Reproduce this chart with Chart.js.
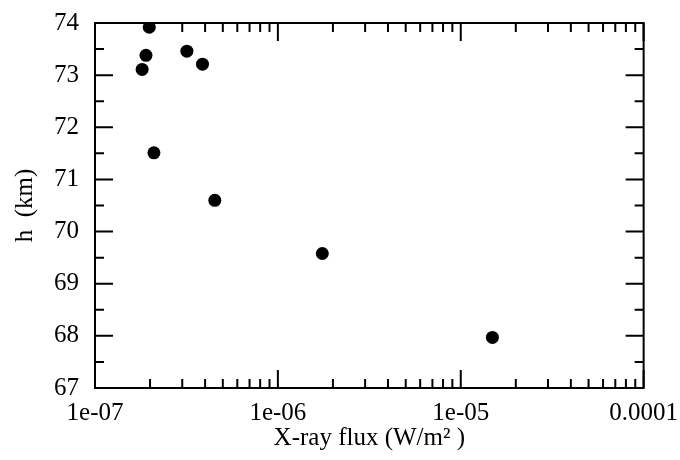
<!DOCTYPE html>
<html>
<head>
<meta charset="utf-8">
<title>X-ray flux vs height</title>
<script src="https://cdn.jsdelivr.net/npm/chart.js@4/dist/chart.umd.min.js"></script>
<style>
	html, body { margin: 0; padding: 0; background: #fff; }
	canvas { display: block; }
</style>
</head>
<body>
<canvas id="fluxChart" width="680" height="460"></canvas>
<script>
// measured points: peak X-ray flux (W/m2) and reflection height (km)
let flux = [1.81e-7, 1.90e-7, 1.98e-7, 2.10e-7, 3.18e-7, 3.87e-7, 4.52e-7, 1.75e-6, 1.49e-5];
let height = [73.11, 73.38, 73.92, 71.51, 73.46, 73.21, 70.60, 69.58, 67.97];

let decadeTicks = [1e-7, 1e-6, 1e-5, 1e-4];
let decadeLabels = ['1e-07', '1e-06', '1e-05', '0.0001'];
let heightTicks = [67, 68, 69, 70, 71, 72, 73, 74];

var serif = "'Liberation Serif', 'Times New Roman', serif";

var points = flux.map(function (f, i) {
	return { x: f, y: height[i] };
});

// frame with ticks pointing into the plot, on all four sides
var inwardTicks = {
	id: 'inwardTicks',
	afterDraw: function (chart) {
		var c = chart.ctx;
		var a = chart.chartArea;
		var xs = chart.scales.x;
		var ys = chart.scales.y;
		var major = 18, minor = 9;
		c.save();
		c.strokeStyle = '#000';
		c.lineWidth = 2;
		c.strokeRect(a.left, a.top, a.right - a.left, a.bottom - a.top);
		c.beginPath();
		decadeTicks.forEach(function (v, i) {
			var px = xs.getPixelForValue(v);
			c.moveTo(px, a.bottom); c.lineTo(px, a.bottom - major);
			c.moveTo(px, a.top); c.lineTo(px, a.top + major);
			if (i == decadeTicks.length - 1) return;
			for (var m = 2; m <= 9; m++) {
				var mx = xs.getPixelForValue(v * m);
				c.moveTo(mx, a.bottom); c.lineTo(mx, a.bottom - minor);
				c.moveTo(mx, a.top); c.lineTo(mx, a.top + minor);
			}
		});
		heightTicks.forEach(function (v, i) {
			var py = ys.getPixelForValue(v);
			c.moveTo(a.left, py); c.lineTo(a.left + major, py);
			c.moveTo(a.right, py); c.lineTo(a.right - major, py);
			if (i == heightTicks.length - 1) return;
			var my = ys.getPixelForValue(v + 0.5);
			c.moveTo(a.left, my); c.lineTo(a.left + minor, my);
			c.moveTo(a.right, my); c.lineTo(a.right - minor, my);
		});
		c.stroke();
		c.restore();
	}
};

var ctx = document.getElementById('fluxChart').getContext('2d');
var fluxChart = new Chart(ctx, {
	type: 'scatter',
	data: {
		datasets: [
			{
				data: points,
				backgroundColor: '#000',
				borderWidth: 0,
				pointRadius: 6.5,
				pointHoverRadius: 6.5
			}
		]
	},
	options: {
		responsive: false,
		animation: false,
		devicePixelRatio: 1,
		layout: {
			padding: { top: 20, right: 35, left: 0, bottom: 0 }
		},
		plugins: {
			legend: { display: false },
			tooltip: { enabled: false }
		},
		scales: {
			x: {
				type: 'logarithmic',
				min: 1e-7,
				max: 1e-4,
				afterBuildTicks: function (scale) {
					scale.ticks = decadeTicks.map(function (v) { return { value: v }; });
				},
				afterFit: function (scale) {
					scale.height = 72;
				},
				grid: { display: false },
				border: { display: false },
				ticks: {
					autoSkip: false,
					maxRotation: 0,
					padding: 2,
					color: '#000',
					font: { family: serif, size: 25 },
					callback: function (value, index) {
						return decadeLabels[index];
					}
				},
				title: {
					display: true,
					text: 'X-ray flux (W/m² )',
					color: '#000',
					font: { family: serif, size: 25 },
					padding: { top: 0, bottom: 7 }
				}
			},
			y: {
				min: 67,
				max: 74,
				afterBuildTicks: function (scale) {
					scale.ticks = heightTicks.map(function (v) { return { value: v }; });
				},
				afterFit: function (scale) {
					scale.width = 95;
				},
				grid: { display: false },
				border: { display: false },
				ticks: {
					padding: 8,
					color: '#000',
					font: { family: serif, size: 25 }
				},
				title: {
					display: true,
					text: 'h  (km)',
					color: '#000',
					font: { family: serif, size: 25 },
					padding: { top: 10, bottom: 0 }
				}
			}
		}
	},
	plugins: [inwardTicks]
});
</script>
</body>
</html>
